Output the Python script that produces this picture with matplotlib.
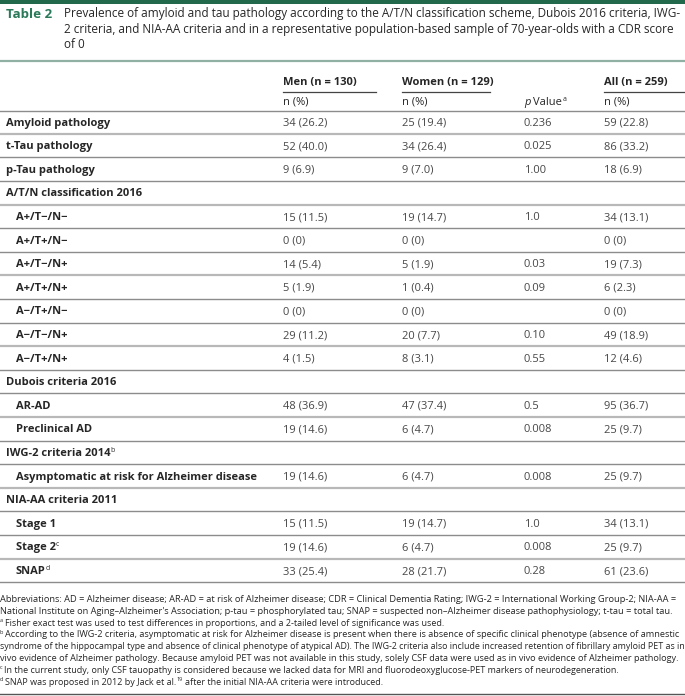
import matplotlib
matplotlib.use("Agg")
import matplotlib.pyplot as plt

plt.rcParams['font.family'] = ['Open Sans', 'DejaVu Sans']

# table content
title_lines = [
    "Prevalence of amyloid and tau pathology according to the A/T/N classification scheme, Dubois 2016 criteria, IWG-",
    "2 criteria, and NIA-AA criteria and in a representative population-based sample of 70-year-olds with a CDR score",
    "of 0",
]
col_heads = ["Men (n = 130)", "Women (n = 129)", "", "All (n = 259)"]

labels = ["Amyloid pathology", "t-Tau pathology", "p-Tau pathology",
          "A/T/N classification 2016",
          "A+/T\u2212/N\u2212", "A+/T+/N\u2212", "A+/T\u2212/N+", "A+/T+/N+",
          "A\u2212/T+/N\u2212", "A\u2212/T\u2212/N+", "A\u2212/T+/N+",
          "Dubois criteria 2016", "AR-AD", "Preclinical AD",
          "IWG-2 criteria 2014", "Asymptomatic at risk for Alzheimer disease",
          "NIA-AA criteria 2011", "Stage 1", "Stage 2", "SNAP"]
label_sup = {"IWG-2 criteria 2014": "b", "Stage 2": "c", "SNAP": "d"}
kinds = ["main", "main", "main", "group", "sub", "sub", "sub", "sub", "sub", "sub", "sub",
         "group", "sub", "sub", "group", "sub", "group", "sub", "sub", "sub"]
men = ["34 (26.2)", "52 (40.0)", "9 (6.9)", "", "15 (11.5)", "0 (0)", "14 (5.4)", "5 (1.9)",
       "0 (0)", "29 (11.2)", "4 (1.5)", "", "48 (36.9)", "19 (14.6)", "", "19 (14.6)",
       "", "15 (11.5)", "19 (14.6)", "33 (25.4)"]
women = ["25 (19.4)", "34 (26.4)", "9 (7.0)", "", "19 (14.7)", "0 (0)", "5 (1.9)", "1 (0.4)",
         "0 (0)", "20 (7.7)", "8 (3.1)", "", "47 (37.4)", "6 (4.7)", "", "6 (4.7)",
         "", "19 (14.7)", "6 (4.7)", "28 (21.7)"]
pvals = ["0.236", "0.025", "1.00", "", "1.0", "", "0.03", "0.09", "", "0.10", "0.55",
         "", "0.5", "0.008", "", "0.008", "", "1.0", "0.008", "0.28"]
total = ["59 (22.8)", "86 (33.2)", "18 (6.9)", "", "34 (13.1)", "0 (0)", "19 (7.3)", "6 (2.3)",
         "0 (0)", "49 (18.9)", "12 (4.6)", "", "95 (36.7)", "25 (9.7)", "", "25 (9.7)",
         "", "34 (13.1)", "25 (9.7)", "61 (23.6)"]

# footnotes: (superscript mark, text pieces, justified to full width?)
notes = [
    ("", ["Abbreviations: AD = Alzheimer disease; AR-AD = at risk of Alzheimer disease; CDR = Clinical Dementia Rating; IWG-2 = International Working Group-2; NIA-AA ="], True),
    ("", ["National Institute on Aging\u2013Alzheimer's Association; p-tau = phosphorylated tau; SNAP = suspected non\u2013Alzheimer disease pathophysiology; t-tau = total tau."], True),
    ("a", ["Fisher exact test was used to test differences in proportions, and a 2-tailed level of significance was used."], False),
    ("b", ["According to the IWG-2 criteria, asymptomatic at risk for Alzheimer disease is present when there is absence of specific clinical phenotype (absence of amnestic"], True),
    ("", ["syndrome of the hippocampal type and absence of clinical phenotype of atypical AD). The IWG-2 criteria also include increased retention of fibrillary amyloid PET as in"], True),
    ("", ["vivo evidence of Alzheimer pathology. Because amyloid PET was not available in this study, solely CSF data were used as in vivo evidence of Alzheimer pathology."], True),
    ("c", ["In the current study, only CSF tauopathy is considered because we lacked data for MRI and fluorodeoxyglucose-PET markers of neurodegeneration."], False),
    ("d", ["SNAP was proposed in 2012 by Jack et al.", "19", "after the initial NIA-AA criteria were introduced."], False),
]

green = "#21694a"
txt = "#262626"
numc = "#474747"
rule = "#8c8c8c"

fig = plt.figure(figsize=(6.85, 6.96), dpi=100)
ax = fig.add_axes([0, 0, 1, 1])
ax.set_xlim(0, 685)
ax.set_ylim(696, 0)
ax.axis("off")
rend = fig.canvas.get_renderer()


def right_edge(t):
    return t.get_window_extent(renderer=rend).x1


def sup(x, y, s, size, color, weight="normal"):
    # small raised mark, y is the baseline of the parent text
    return ax.text(x, y - size * 1.389 * 0.38, s, fontsize=size * 0.62, color=color,
                   fontweight=weight, va="baseline")


# top band and title
ax.fill_between([0, 685], 0, 4, color=green, lw=0)
ax.text(6, 17.5, "Table 2", fontsize=9.6, fontweight="bold", color="#2a7a5a", va="baseline")
for i, line in enumerate(title_lines):
    ax.text(64, 17.5 + i * 15.5, line, fontsize=8.5, color=txt, va="baseline")
ax.plot([0, 685], [61, 61], color="#8fb0a2", lw=1.6)

# header
fs = 8.0
xcol = [283, 402, 524, 604]
ucol = [(283, 376), (402, 490), None, (604, 685)]
for x, h, u in zip(xcol, col_heads, ucol):
    if h:
        ax.text(x, 85, h, fontsize=fs, fontweight="bold", color=txt, va="baseline")
        ax.text(x, 105, "n (%)", fontsize=fs, color=txt, va="baseline")
    if u:
        ax.plot(u, [91.5, 91.5], color="#444444", lw=0.9)
t = ax.text(xcol[2], 105, "p", fontsize=fs, style="italic", color=txt, va="baseline")
t = ax.text(right_edge(t) + 2.5, 105, "Value", fontsize=fs, color=txt, va="baseline")
sup(right_edge(t) + 0.5, 105, "a", fs, txt)
ax.plot([0, 685], [111, 111], color=rule, lw=1.0)

# body rows
y0, dy = 122, 23.6
for i, lab in enumerate(labels):
    y = y0 + i * dy
    yb = y + 3.6
    x = 16 if kinds[i] == "sub" else 6
    t = ax.text(x, yb, lab, fontsize=fs, fontweight="bold", color=txt, va="baseline")
    if lab in label_sup:
        sup(right_edge(t) - 0.5, yb, label_sup[lab], fs, txt)
    for xc, val in zip(xcol, [men[i], women[i], pvals[i], total[i]]):
        ax.text(xc, yb, val, fontsize=fs, color=numc, va="baseline")
    lw = 1.0 if i % 3 else 1.6
    col = rule if i % 3 else "#b8b8b8"
    ax.plot([0, 685], [y + dy / 2, y + dy / 2], color=col, lw=lw)

# footnotes: the justified lines are sized to run to the right edge
nfs = 6.75
fitted = []
for mark, pieces, just in notes:
    if just:
        t = ax.text(0, 0, pieces[0], fontsize=nfs)
        w = t.get_window_extent(renderer=rend).width
        t.remove()
        fitted.append(nfs * (683 - (4 if mark else 0)) / w)
body_fs = min(fitted)

for i, (mark, pieces, just) in enumerate(notes):
    yb = 602 + i * 11.8
    x = 0
    if mark:
        m = sup(x, yb, mark, body_fs, txt)
        x = right_edge(m) + 1.5
    for j, piece in enumerate(pieces):
        if j % 2 == 1:
            m = sup(x + 0.5, yb, piece, body_fs, txt)
            x = right_edge(m) + 2.5
        else:
            size = body_fs
            t = ax.text(x, yb, piece, fontsize=size, color=txt, va="baseline")
            if just:
                w = t.get_window_extent(renderer=rend).width
                t.set_fontsize(size * (683 - x) / w)
            x = right_edge(t)
ax.plot([0, 685], [694, 694], color="#555555", lw=1.0)

fig.savefig("out.png", dpi=100)
